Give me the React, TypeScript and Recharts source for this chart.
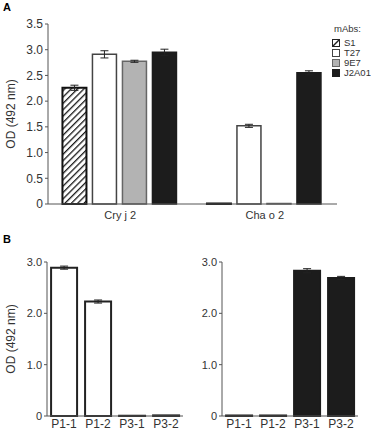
import React from "react";
import { BarChart, Bar, XAxis, YAxis, ErrorBar, Label } from "recharts";

// panel A
const antigens = ["Cry j 2", "Cha o 2"];
const mAbs = ["S1", "T27", "9E7", "J2A01"];
const s1Od = [2.26, 0.01];
const s1Err = [0.05, 0];
const t27Od = [2.91, 1.52];
const t27Err = [0.07, 0.03];
const e9e7Od = [2.775, 0.01];
const e9e7Err = [0.02, 0];
const j2a01Od = [2.95, 2.55];
const j2a01Err = [0.06, 0.04];
const ticksA = [0, 0.5, 1, 1.5, 2, 2.5, 3, 3.5];

// panel B
const peptides = ["P1-1", "P1-2", "P3-1", "P3-2"];
const t27PepOd = [2.89, 2.23, 0.005, 0.012];
const t27PepErr = [0.03, 0.03, 0, 0];
const j2PepOd = [0.01, 0.01, 2.83, 2.69];
const j2PepErr = [0, 0, 0.04, 0.03];
const ticksB = [0, 1, 2, 3];

const dataA = antigens.map((name, i) => ({
  name,
  S1: s1Od[i], S1e: s1Err[i],
  T27: t27Od[i], T27e: t27Err[i],
  "9E7": e9e7Od[i], "9E7e": e9e7Err[i],
  J2A01: j2a01Od[i], J2A01e: j2a01Err[i],
}));

const dataBL = peptides.map((name, i) => ({ name, od: t27PepOd[i], err: t27PepErr[i] }));
const dataBR = peptides.map((name, i) => ({ name, od: j2PepOd[i], err: j2PepErr[i] }));

const font = "'Liberation Sans', Arial, sans-serif";
const axisColor = "#555";
const tickStyle = { fill: "#333", fontSize: 11, fontFamily: font };
const yTickA = { fill: "#333", fontSize: 12, fontFamily: font };
const yTickB = { fill: "#333", fontSize: 11, fontFamily: font };
const xTickB = { fill: "#333", fontSize: 12, fontFamily: font };
const fmt = (v: number) => (v === 0 ? "0" : v.toFixed(1));

const styles: Record<string, { fill: string; stroke: string; w: number }> = {
  S1: { fill: "url(#hatch)", stroke: "#111", w: 2 },
  T27: { fill: "#fff", stroke: "#444", w: 1.5 },
  "9E7": { fill: "#b3b3b3", stroke: "#666", w: 1.5 },
  J2A01: { fill: "#1c1c1c", stroke: "#1c1c1c", w: 1.5 },
};

function LegendBox({ k }: { k: string }) {
  return (
    <svg width={8} height={8} style={{ marginRight: 4 }}>
      {k === "S1" ? (
        <>
          <rect x={0.5} y={0.5} width={7} height={7} fill="#fff" stroke="#222" />
          <line x1={1} y1={7} x2={7} y2={1} stroke="#222" strokeWidth={1.5} />
        </>
      ) : (
        <rect x={0.5} y={0.5} width={7} height={7} fill={styles[k].fill} stroke={styles[k].stroke} />
      )}
    </svg>
  );
}

function PanelB({ data, fill, stroke, yWidth, rightMargin, label }: any) {
  return (
    <BarChart
      width={yWidth === 47 ? 190 : 191}
      height={203}
      data={data}
      margin={{ top: 32, right: rightMargin, bottom: 0, left: 0 }}
      barCategoryGap="12%"
    >
      <XAxis
        dataKey="name"
        tickLine={false}
        tickSize={0}
        tickMargin={3}
        height={17}
        axisLine={{ stroke: axisColor }}
        tick={xTickB}
        interval={0}
      />
      <YAxis
        width={yWidth}
        domain={[0, 3]}
        ticks={ticksB}
        tickFormatter={fmt}
        tickSize={3}
        tickLine={{ stroke: axisColor }}
        axisLine={{ stroke: axisColor }}
        tick={yTickB}
      >
        {label && (
          <Label
            value="OD (492 nm)"
            angle={-90}
            position="insideLeft"
            offset={11}
            style={{ textAnchor: "middle", fill: "#333", fontSize: 12, fontFamily: font }}
          />
        )}
      </YAxis>
      <Bar dataKey="od" fill={fill} stroke={stroke} strokeWidth={2} isAnimationActive={false}>
        <ErrorBar dataKey="err" width={4} stroke="#222" strokeWidth={1} />
      </Bar>
    </BarChart>
  );
}

export default function App() {
  return (
    <div style={{ position: "absolute", left: 0, top: 0, width: 371, height: 433, background: "#fff", fontFamily: font }}>
      <div style={{ position: "absolute", left: 3, top: 1, fontWeight: "bold", fontSize: 11 }}>A</div>
      <div style={{ position: "absolute", left: 3, top: 233, fontWeight: "bold", fontSize: 11 }}>B</div>

      <div style={{ position: "absolute", left: 0, top: 0 }}>
        <BarChart
          width={371}
          height={230}
          data={dataA}
          margin={{ top: 24, right: 34, bottom: 6, left: 0 }}
          barCategoryGap="10%"
          barGap={6}
        >
          <defs>
            <pattern id="hatch" patternUnits="userSpaceOnUse" width={4.5} height={4.5} patternTransform="rotate(45)">
              <rect width={4.5} height={4.5} fill="#fff" />
              <line x1={0} y1={0} x2={0} y2={4.5} stroke="#1a1a1a" strokeWidth={2.6} />
            </pattern>
          </defs>
          <XAxis
            dataKey="name"
            tickLine={false}
            tickSize={0}
            tickMargin={7}
            height={20}
            axisLine={{ stroke: axisColor }}
            tick={tickStyle}
          />
          <YAxis
            width={48}
            domain={[0, 3.5]}
            ticks={ticksA}
            tickFormatter={fmt}
            tickSize={3}
            tickLine={{ stroke: axisColor }}
            axisLine={{ stroke: axisColor }}
            tick={yTickA}
          >
            <Label
              value="OD (492 nm)"
              angle={-90}
              position="insideLeft"
              offset={11}
              style={{ textAnchor: "middle", fill: "#333", fontSize: 12, fontFamily: font }}
            />
          </YAxis>
          {mAbs.map((k) => (
            <Bar
              key={k}
              dataKey={k}
              fill={styles[k].fill}
              stroke={styles[k].stroke}
              strokeWidth={styles[k].w}
              isAnimationActive={false}
            >
              <ErrorBar dataKey={k + "e"} width={4} stroke="#222" strokeWidth={1} />
            </Bar>
          ))}
        </BarChart>
      </div>

      <div style={{ position: "absolute", left: 332, top: 24, fontSize: 9.5, color: "#333", lineHeight: "10px" }}>
        <div style={{ marginLeft: 2, marginBottom: 4 }}>mAbs:</div>
        {mAbs.map((k) => (
          <div key={k} style={{ display: "flex", alignItems: "center", height: 10 }}>
            <LegendBox k={k} />
            {k}
          </div>
        ))}
      </div>

      <div style={{ position: "absolute", left: 0, top: 230 }}>
        <PanelB data={dataBL} fill="#fff" stroke="#222" yWidth={47} rightMargin={7} label />
      </div>
      <div style={{ position: "absolute", left: 180, top: 230 }}>
        <PanelB data={dataBR} fill="#1c1c1c" stroke="#1c1c1c" yWidth={42} rightMargin={13} label={false} />
      </div>
    </div>
  );
}
